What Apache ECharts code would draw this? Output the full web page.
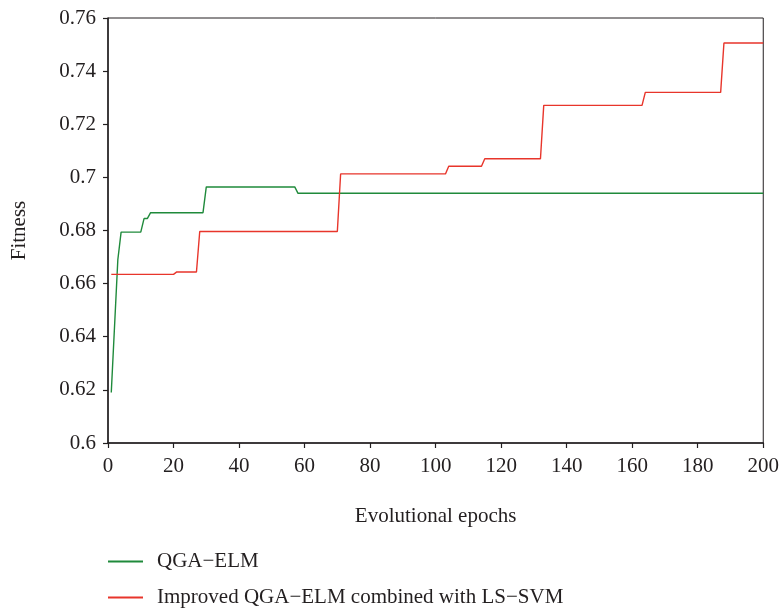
<!DOCTYPE html>
<html>
<head>
<meta charset="utf-8">
<script src="https://cdn.jsdelivr.net/npm/echarts@6/dist/echarts.min.js"></script>
<style>
  html, body { margin: 0; padding: 0; background: #fff; }
  #chart { width: 782px; height: 612px; }
</style>
</head>
<body>
<div id="chart"></div>
<script>
// Best fitness per evolutional epoch (vertices of each convergence curve)
const seriesNames = ['QGA\u2212ELM', 'Improved QGA\u2212ELM combined with LS\u2212SVM'];

const qgaEpochs = [1, 3, 4, 10, 11, 12, 13, 29, 30, 57, 58, 200];
const qgaFitness = [0.619, 0.669, 0.6794, 0.6794, 0.6845, 0.6845, 0.6867, 0.6867, 0.6964, 0.6964, 0.694, 0.694];

const improvedEpochs = [1, 20, 21, 27, 28, 70, 71, 103, 104, 114, 115, 132, 133, 163, 164, 187, 188, 200];
const improvedFitness = [0.6635, 0.6635, 0.6644, 0.6644, 0.6796, 0.6796, 0.7013, 0.7013, 0.7042, 0.7042,
                         0.707, 0.707, 0.7271, 0.7271, 0.732, 0.732, 0.7506, 0.7506];

const yTickLabels = { 0.6: '0.6', 0.62: '0.62', 0.64: '0.64', 0.66: '0.66', 0.68: '0.68',
                      0.7: '0.7', 0.72: '0.72', 0.74: '0.74', 0.76: '0.76' };

const pairs = (xs, ys) => xs.map((x, i) => [x, ys[i]]);

const FONT = '"Liberation Serif", "DejaVu Serif", serif';
const INK = '#231f20';
const FS = 21;

const chart = echarts.init(document.getElementById('chart'), null, { renderer: 'canvas' });

chart.setOption({
  animation: false,
  backgroundColor: '#ffffff',
  textStyle: { fontFamily: FONT, color: INK },
  grid: {
    left: 108, right: 18, top: 18, bottom: 169,
    show: true, borderColor: INK, borderWidth: 1, backgroundColor: 'transparent'
  },
  xAxis: {
    type: 'value', min: 0, max: 200, interval: 20,
    name: 'Evolutional epochs', nameLocation: 'middle', nameGap: 63,
    nameTextStyle: { fontFamily: FONT, fontSize: FS, color: INK },
    axisLine: { show: true, lineStyle: { color: INK, width: 1.5 } },
    axisTick: { show: true, length: 5, inside: false, lineStyle: { color: INK, width: 1.2 } },
    axisLabel: { fontFamily: FONT, fontSize: FS, color: INK, margin: 13 },
    splitLine: { show: false }
  },
  yAxis: {
    type: 'value', min: 0.6, max: 0.76, interval: 0.02,
    name: 'Fitness', nameLocation: 'middle', nameGap: 78, nameRotate: 90,
    nameTextStyle: { fontFamily: FONT, fontSize: FS, color: INK },
    axisLine: { show: true, lineStyle: { color: INK, width: 1.5 } },
    axisTick: { show: true, length: 5, inside: false, lineStyle: { color: INK, width: 1.2 } },
    axisLabel: {
      fontFamily: FONT, fontSize: FS, color: INK, margin: 12,
      formatter: v => yTickLabels[Math.round(v * 100) / 100] || String(+v.toFixed(2))
    },
    splitLine: { show: false }
  },
  legend: {
    orient: 'vertical', left: 108, top: 551, padding: 0,
    icon: 'rect', itemWidth: 35, itemHeight: 2, itemGap: 15,
    textStyle: { fontFamily: FONT, fontSize: FS, color: INK, lineHeight: 21, padding: [0, 0, 0, 9] },
    data: seriesNames
  },
  series: [
    {
      name: seriesNames[0], type: 'line', symbol: 'none',
      data: pairs(qgaEpochs, qgaFitness),
      lineStyle: { color: '#1f8a3b', width: 1.4 },
      itemStyle: { color: '#1f8a3b' }
    },
    {
      name: seriesNames[1], type: 'line', symbol: 'none',
      data: pairs(improvedEpochs, improvedFitness),
      lineStyle: { color: '#e8352b', width: 1.4 },
      itemStyle: { color: '#e8352b' }
    }
  ]
});
</script>
</body>
</html>
